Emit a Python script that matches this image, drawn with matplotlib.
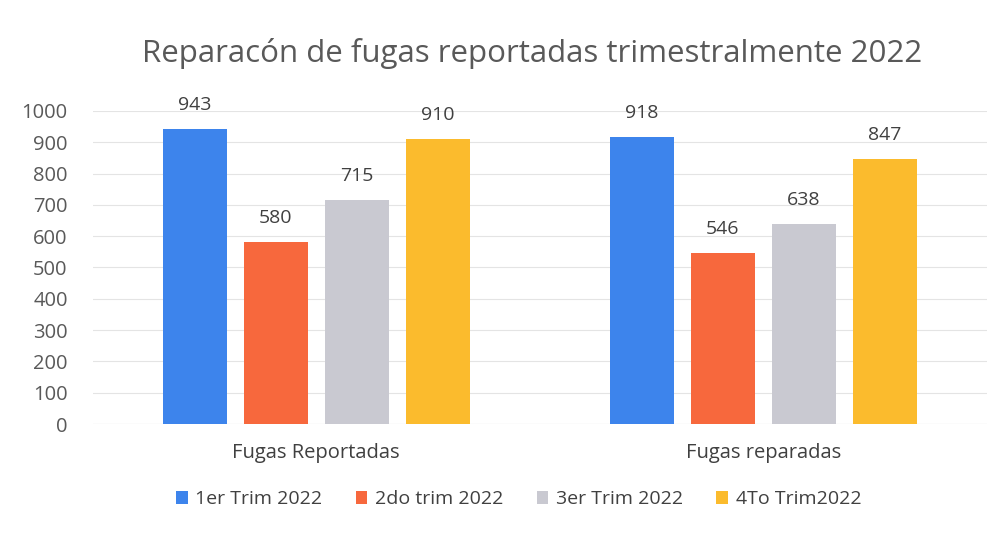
import matplotlib
matplotlib.use("Agg")
import matplotlib.pyplot as plt
import numpy as np

plt.rcParams['font.family'] = ['Open Sans', 'DejaVu Sans']

categories = ["Fugas Reportadas", "Fugas reparadas"]
series_names = ["1er Trim 2022", "2do trim 2022", "3er Trim 2022", "4To Trim2022"]
values = {
    "1er Trim 2022": [943, 918],
    "2do trim 2022": [580, 546],
    "3er Trim 2022": [715, 638],
    "4To Trim2022": [910, 847],
}
colors = ["#3d84ec", "#f7683d", "#c9c9d1", "#fbbb2d"]
title = "Reparacón de fugas reportadas trimestralmente 2022"

fig = plt.figure(figsize=(10.07, 5.37), dpi=100)
ax = fig.add_axes([0.092, 0.2104, 0.888, 0.583])

x = np.arange(len(categories))
step = 0.181
width = 0.143
text_color = "#595959"
for i, name in enumerate(series_names):
    pos = x + (i - 1.5) * step
    bars = ax.bar(pos, values[name], width=width, color=colors[i], label=name, zorder=3)
    for b, v in zip(bars, values[name]):
        ax.text(b.get_x() + b.get_width() / 2, v + 48, str(v), ha="center", va="bottom",
                fontsize=14, color="#404040")

ax.set_xlim(-0.5, 1.5)
ax.set_ylim(0, 1000)
ax.set_yticks(range(0, 1001, 100))
ax.tick_params(axis="y", length=0, labelsize=14.5, labelcolor=text_color, pad=18)
ax.tick_params(axis="x", length=0, labelsize=14.5, labelcolor="#404040", pad=14)
ax.set_xticks(x)
ax.set_xticklabels(categories)
ax.yaxis.grid(True, color="#e4e4e4", linewidth=0.8, zorder=0)
for s in ax.spines.values():
    s.set_visible(False)
ax.axhline(0, color="#dcdcdc", linewidth=0.8, zorder=2)

fig.text(0.528, 0.9, title, ha="center", va="center", fontsize=22.5, color=text_color)

fig.legend(loc="center", bbox_to_anchor=(0.515, 0.07), ncol=4, frameon=False,
           fontsize=14, handlelength=0.6, handleheight=0.6, columnspacing=1.7,
           handletextpad=0.4, labelcolor="#404040")

fig.savefig("out.png", dpi=100, facecolor="white")
